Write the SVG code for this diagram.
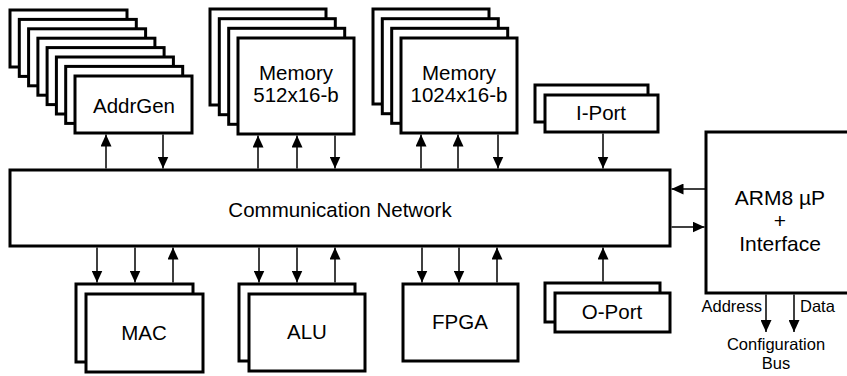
<svg xmlns="http://www.w3.org/2000/svg" width="847" height="376" viewBox="0 0 847 376">
<style>
.b{fill:#fff;stroke:#000;stroke-width:3}
.t{font-family:"Liberation Sans",Arial,sans-serif;font-size:20.5px;text-anchor:middle;fill:#000}
.s{font-family:"Liberation Sans",Arial,sans-serif;font-size:16.5px;fill:#000}
.c line{stroke:#000;stroke-width:1.5;marker-end:url(#ah)}
</style>
<defs>
<marker id="ah" markerWidth="12" markerHeight="11" refX="12" refY="5.5" orient="auto" markerUnits="userSpaceOnUse">
<path d="M0,0 L12,5.5 L0,11 z" fill="#000"/>
</marker>
</defs>
<rect width="847" height="376" fill="#fff"/>
<g id="addrgen">
<rect class="b" x="10" y="10" width="117" height="57"/>
<rect class="b" x="19.3" y="19.4" width="117" height="57"/>
<rect class="b" x="28.6" y="28.8" width="117" height="57"/>
<rect class="b" x="37.9" y="38.2" width="117" height="57"/>
<rect class="b" x="47.1" y="47.6" width="117" height="57"/>
<rect class="b" x="56.4" y="57" width="117" height="57"/>
<rect class="b" x="65.7" y="66.4" width="117" height="57"/>
<rect class="b" x="75" y="76" width="117" height="57"/>
<text class="t" x="134" y="113">AddrGen</text>
</g>
<g id="mem512">
<rect class="b" x="210" y="9" width="116" height="96"/>
<rect class="b" x="219.3" y="18.7" width="116" height="96"/>
<rect class="b" x="228.7" y="28.3" width="116" height="96"/>
<rect class="b" x="238" y="38" width="116" height="96"/>
<text class="t" x="296" y="80">Memory</text>
<text class="t" x="296" y="102">512x16-b</text>
</g>
<g id="mem1024">
<rect class="b" x="373" y="9" width="116" height="95"/>
<rect class="b" x="382.3" y="18.7" width="116" height="95"/>
<rect class="b" x="391.7" y="28.3" width="116" height="95"/>
<rect class="b" x="401" y="38" width="116" height="95"/>
<text class="t" x="459" y="80">Memory</text>
<text class="t" x="459" y="102">1024x16-b</text>
</g>
<g id="iport">
<rect class="b" x="535" y="85" width="113" height="37"/>
<rect class="b" x="545" y="95" width="113" height="37"/>
<text class="t" x="601" y="120">I-Port</text>
</g>
<g id="network">
<rect class="b" x="10" y="170" width="660" height="76"/>
<text class="t" x="340" y="217">Communication Network</text>
</g>
<g id="arm">
<rect class="b" x="706" y="132" width="150" height="161"/>
<text class="t" x="780" y="205" style="font-size:21px">ARM8 µP</text>
<text class="t" x="780" y="228" style="font-size:21px">+</text>
<text class="t" x="780" y="251" style="font-size:21px">Interface</text>
</g>
<g id="mac">
<rect class="b" x="76" y="284" width="117" height="78"/>
<rect class="b" x="86" y="294" width="117" height="78"/>
<text class="t" x="144" y="340">MAC</text>
</g>
<g id="alu">
<rect class="b" x="239" y="284" width="116" height="77"/>
<rect class="b" x="249" y="294" width="116" height="77"/>
<text class="t" x="307" y="339">ALU</text>
</g>
<g id="fpga">
<rect class="b" x="403" y="284" width="115" height="77"/>
<text class="t" x="460" y="329">FPGA</text>
</g>
<g id="oport">
<rect class="b" x="545" y="283" width="115" height="39"/>
<rect class="b" x="555" y="293" width="115" height="39"/>
<text class="t" x="612" y="319">O-Port</text>
</g>
<g id="confbus">
<text class="s" x="762" y="312" text-anchor="end">Address</text>
<text class="s" x="800" y="312">Data</text>
<text class="s" x="776" y="350" text-anchor="middle">Configuration</text>
<text class="s" x="776" y="369" text-anchor="middle">Bus</text>
</g>
<g id="connectors" class="c">
<line x1="106" y1="168.5" x2="106" y2="134.5"/>
<line x1="163" y1="134.5" x2="163" y2="168.5"/>
<line x1="258" y1="168.5" x2="258" y2="135.5"/>
<line x1="297" y1="168.5" x2="297" y2="135.5"/>
<line x1="335" y1="135.5" x2="335" y2="168.5"/>
<line x1="421" y1="168.5" x2="421" y2="134.5"/>
<line x1="458" y1="168.5" x2="458" y2="134.5"/>
<line x1="498" y1="134.5" x2="498" y2="168.5"/>
<line x1="603" y1="133.5" x2="603" y2="168.5"/>
<line x1="706" y1="189" x2="671.5" y2="189"/>
<line x1="671.5" y1="227" x2="704.5" y2="227"/>
<line x1="97" y1="247.5" x2="97" y2="282.5"/>
<line x1="135" y1="247.5" x2="135" y2="282.5"/>
<line x1="173" y1="282.5" x2="173" y2="247.5"/>
<line x1="259" y1="247.5" x2="259" y2="282.5"/>
<line x1="297" y1="247.5" x2="297" y2="282.5"/>
<line x1="335" y1="282.5" x2="335" y2="247.5"/>
<line x1="422" y1="247.5" x2="422" y2="282.5"/>
<line x1="459" y1="247.5" x2="459" y2="282.5"/>
<line x1="497" y1="282.5" x2="497" y2="247.5"/>
<line x1="603" y1="281.5" x2="603" y2="247.5"/>
<line x1="766" y1="294.5" x2="766" y2="332"/>
<line x1="794" y1="294.5" x2="794" y2="332"/>
</g>
</svg>
